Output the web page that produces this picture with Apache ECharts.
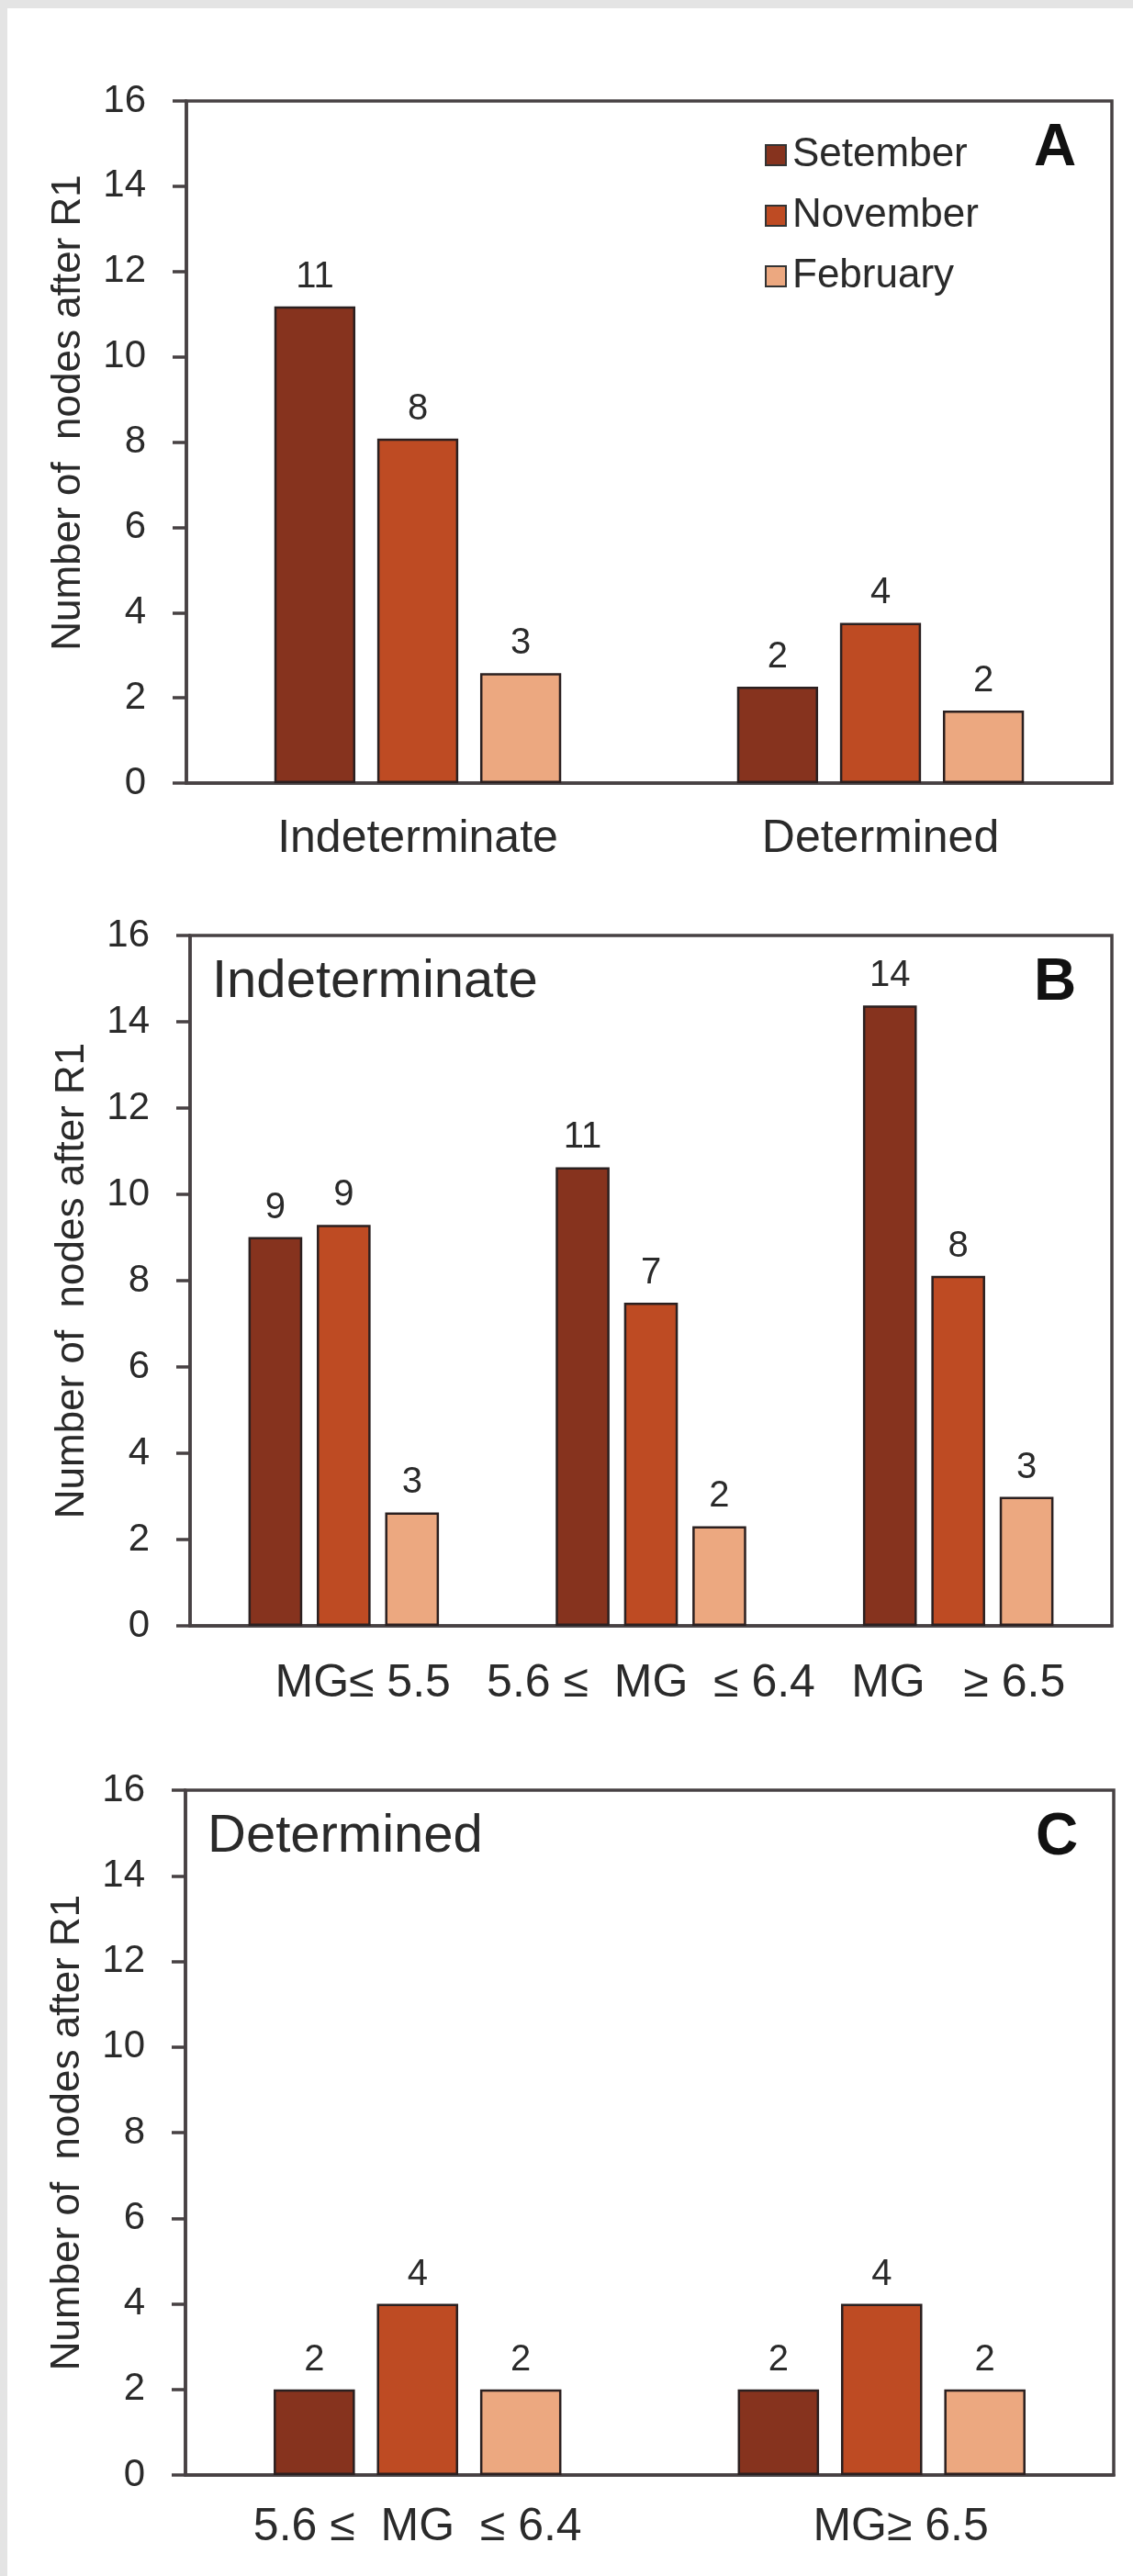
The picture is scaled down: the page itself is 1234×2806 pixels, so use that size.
<!DOCTYPE html>
<html><head><meta charset="utf-8">
<script src="https://cdn.jsdelivr.net/npm/echarts@6/dist/echarts.min.js"></script>
<style>
html,body{margin:0;padding:0;}
#wrap{position:relative;width:1234px;height:2806px;background:#e4e4e4;overflow:hidden}
#paper{position:absolute;left:8px;top:9px;right:0;bottom:0;background:#fff}
#c{position:absolute;left:0;top:0;width:1234px;height:2806px}
</style>
</head><body>
<div id="wrap"><div id="paper"></div><div id="c"></div></div>
<script>
// ---------- data ----------
const seriesNames = ['Setember', 'November', 'February'];
const catsA = ['Indeterminate', 'Determined'];
const catsB = ['   MG≤ 5.5', '5.6 ≤  MG  ≤ 6.4', 'MG   ≥ 6.5'];
const catsC = ['5.6 ≤  MG  ≤ 6.4', '   MG≥ 6.5'];

const aSep = [11.18, 2.26], aNov = [8.08, 3.76], aFeb = [2.58, 1.70];
const aSepLbl = ['11', '2'], aNovLbl = ['8', '4'], aFebLbl = ['3', '2'];

const bSep = [9.01, 10.63, 14.38], bNov = [9.29, 7.49, 8.11], bFeb = [2.63, 2.31, 2.99];
const bSepLbl = ['9', '11', '14'], bNovLbl = ['9', '7', '8'], bFebLbl = ['3', '2', '3'];

const cSep = [2, 2], cNov = [4, 4], cFeb = [2, 2];
const cSepLbl = ['2', '2'], cNovLbl = ['4', '4'], cFebLbl = ['2', '2'];

const yMin = 0, yMax = 16, yStep = 2;
const yTitle = 'Number of  nodes after R1';
const panelLetters = ['A', 'B', 'C'];
const panelTitles = ['', 'Indeterminate', 'Determined'];

// ---------- style ----------
const colors = ['#86331e', '#be4b23', '#eca880'];
const FONT = "'Liberation Sans', Arial, sans-serif";
const INK = '#2a2a2a';
const FRAME = '#474143';

const grids = [
  {left: 203, top: 110, width: 1008, height: 743},
  {left: 207, top: 1019, width: 1004, height: 752},
  {left: 202, top: 1950, width: 1011, height: 746}
];
const catLabelMargin = [36, 38, 32];

const chart = echarts.init(document.getElementById('c'), null, {renderer: 'canvas'});

function yAxis(i) {
  return {
    type: 'value', gridIndex: i, min: yMin, max: yMax, interval: yStep,
    axisLine: {show: true, lineStyle: {color: FRAME, width: 3.5}},
    axisTick: {show: true, length: 15, lineStyle: {color: FRAME, width: 3.5}},
    splitLine: {show: false},
    axisLabel: {margin: 44, fontSize: 42, color: INK, fontFamily: FONT},
    name: yTitle, nameLocation: 'middle', nameGap: 106,
    nameTextStyle: {fontSize: 44, color: INK, fontFamily: FONT,
      padding: i === 0 ? [0, 0, 0, 64] : 0}
  };
}
function xAxis(i, cats) {
  return {
    type: 'category', gridIndex: i, data: cats,
    axisLine: {show: true, lineStyle: {color: FRAME, width: 3.5}},
    axisTick: {show: false},
    axisLabel: {margin: catLabelMargin[i], fontSize: 50, color: INK, fontFamily: FONT, interval: 0}
  };
}
function bar(i, k, vals, lbls) {
  return {
    type: 'bar', name: seriesNames[k], xAxisIndex: i, yAxisIndex: i,
    data: vals, barGap: '27%', barCategoryGap: '38%',
    itemStyle: {color: colors[k], borderColor: '#2b2020', borderWidth: 2.5},
    label: {show: true, position: 'top', distance: 12, fontSize: 40, color: INK,
      fontFamily: FONT, formatter: p => lbls[p.dataIndex]},
    emphasis: {disabled: true}, animation: false
  };
}

const graphics = [];
grids.forEach((g, i) => {
  graphics.push({type: 'text', left: g.left + g.width - 85, top: g.top + 20,
    style: {text: panelLetters[i], font: "bold 64px " + FONT, fill: '#111'}});
  if (panelTitles[i]) {
    graphics.push({type: 'text', left: g.left + 24, top: g.top + 22,
      style: {text: panelTitles[i], font: "58px " + FONT, fill: INK}});
  }
});

chart.setOption({
  animation: false,
  backgroundColor: 'transparent',
  grid: grids.map(g => Object.assign({show: true, borderColor: FRAME, borderWidth: 3.5,
    backgroundColor: 'transparent', containLabel: false}, g)),
  legend: {
    data: seriesNames, orient: 'vertical', left: 828, top: 142,
    icon: 'rect', itemWidth: 22, itemHeight: 22, itemGap: 22,
    itemStyle: {borderColor: '#333', borderWidth: 2},
    textStyle: {fontSize: 44, color: INK, fontFamily: FONT, padding: [0, 0, 0, 2]},
    selectedMode: false
  },
  xAxis: [xAxis(0, catsA), xAxis(1, catsB), xAxis(2, catsC)],
  yAxis: [yAxis(0), yAxis(1), yAxis(2)],
  series: [
    bar(0, 0, aSep, aSepLbl), bar(0, 1, aNov, aNovLbl), bar(0, 2, aFeb, aFebLbl),
    bar(1, 0, bSep, bSepLbl), bar(1, 1, bNov, bNovLbl), bar(1, 2, bFeb, bFebLbl),
    bar(2, 0, cSep, cSepLbl), bar(2, 1, cNov, cNovLbl), bar(2, 2, cFeb, cFebLbl)
  ],
  graphic: graphics
});
</script>
</body></html>
